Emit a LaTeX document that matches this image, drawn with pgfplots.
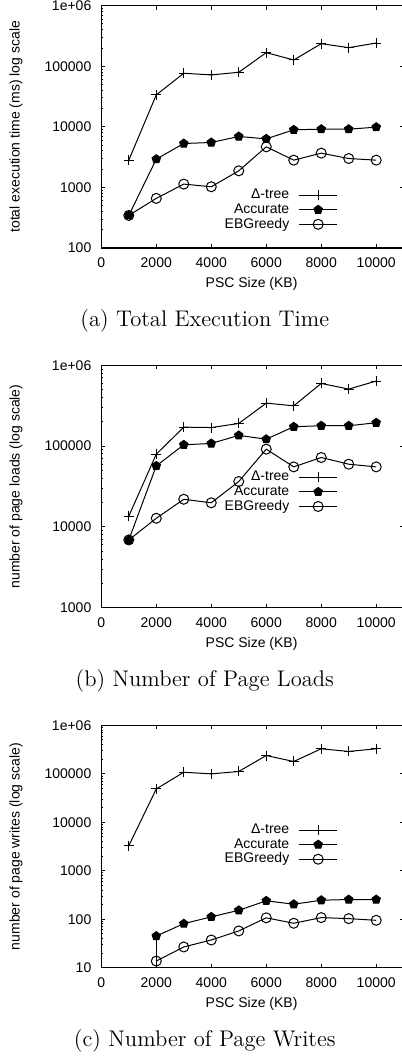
\documentclass[border=0pt]{standalone}
\usepackage{fontspec}
\usepackage{pgfplots}
\pgfplotsset{compat=1.18}
\usetikzlibrary{plotmarks}
\newfontfamily\arial{Liberation Sans}
\newcommand{\sml}{\arial\fontsize{7}{8.4}\selectfont}
\pgfplotsset{
  gp/.style={
    scale only axis, width=151.2pt, height=121.15pt,
    xmin=0, xmax=11000,
    scaled x ticks=false,
    xtick={0,2000,4000,6000,8000,10000},
    xticklabels={0,2000,4000,6000,8000,10000},
    tick align=inside,
    major tick length=1.9pt, minor tick length=1pt,
    xtick pos=both, ytick pos=both,
    tick style={line width=0.5pt, black},
    axis line style={line width=0.65pt},
    xticklabel style={font=\sml, anchor=center, inner sep=0pt, yshift=-7.5pt},
    yticklabel style={font=\sml, anchor=east, inner sep=0pt, xshift=-4.8pt},
    every axis x label/.style={at={(axis description cs:0.497,0)}, anchor=center, yshift=-18pt, font=\sml},
    every axis y label/.style={at={(axis description cs:-0.2821,0.5)}, anchor=center, rotate=90, font=\sml},
    xlabel={PSC Size (KB)},
    legend cell align=right,
    legend plot pos=right,
    legend image code/.code={\draw[mark repeat=2,mark phase=2] plot coordinates {(0pt,0pt)(9.5pt,0pt)(19pt,0pt)};},
    legend style={draw=none, fill=none, anchor=north east, font=\sml, inner sep=0pt, row sep=0pt, column sep=4.5pt,
      nodes={inner sep=0.2pt, text height=5.3pt, text depth=1.6pt}},
  },
  dt/.style={black, line width=0.5pt, mark=+, mark size=2.5pt, mark options={solid, line width=0.5pt}},
  ac/.style={black, line width=0.5pt, mark=pentagon*, mark size=2.2pt, mark options={solid, fill=black}},
  eb/.style={black, line width=0.5pt, mark=o, mark size=2.5pt, mark options={solid, line width=0.5pt}},
}
\begin{document}
\begin{tikzpicture}
\useasboundingbox (0,0) rectangle (201pt,528pt);

% (a)
\begin{semilogyaxis}[gp, at={(50.65pt,404pt)}, anchor=south west,
  ymin=100, ymax=1000000,
  ytick={100,1000,10000,100000,1000000},
  yticklabels={100,1000,10000,100000,1e+06},
  minor ytick={200,300,400,500,600,700,800,900,2000,3000,4000,5000,6000,7000,8000,9000,20000,30000,40000,50000,60000,70000,80000,90000,200000,300000,400000,500000,600000,700000,800000,900000},
  ylabel={total execution time (ms) log scale},
  legend style={at={(0.783,0.25)}}]
\addplot[dt] coordinates {(1000,2820) (2000,33700) (3000,76700) (4000,72000) (5000,79600) (6000,168000) (7000,127000) (8000,236000) (9000,203000) (10000,242000)};
\addplot[ac] coordinates {(1000,345) (2000,2930) (3000,5310) (4000,5520) (5000,6930) (6000,6340) (7000,8930) (8000,9160) (9000,9160) (10000,9880)};
\addplot[eb] coordinates {(1000,345) (2000,659) (3000,1135) (4000,1025) (5000,1880) (6000,4680) (7000,2820) (8000,3680) (9000,3000) (10000,2820)};
\legend{Δ-tree, Accurate, EBGreedy}
\end{semilogyaxis}

% (b)
\begin{semilogyaxis}[gp, at={(50.65pt,224.15pt)}, anchor=south west,
  ymin=1000, ymax=1000000,
  ytick={1000,10000,100000,1000000},
  yticklabels={1000,10000,100000,1e+06},
  minor ytick={2000,3000,4000,5000,6000,7000,8000,9000,20000,30000,40000,50000,60000,70000,80000,90000,200000,300000,400000,500000,600000,700000,800000,900000},
  ylabel={number of page loads (log scale)},
  legend style={at={(0.783,0.57)}}]
\addplot[dt] coordinates {(1000,13600) (2000,79600) (3000,172000) (4000,170000) (5000,191000) (6000,341000) (7000,316000) (8000,598000) (9000,509000) (10000,640000)};
\addplot[ac] coordinates {(1000,6900) (2000,57000) (3000,104000) (4000,108000) (5000,136000) (6000,122000) (7000,174000) (8000,179000) (9000,179000) (10000,195000)};
\addplot[eb] coordinates {(1000,6900) (2000,12800) (3000,22000) (4000,19900) (5000,36500) (6000,91800) (7000,55400) (8000,72400) (9000,59800) (10000,55400)};
\legend{Δ-tree, Accurate, EBGreedy}
\end{semilogyaxis}

% (c)
\begin{semilogyaxis}[gp, at={(50.65pt,44.15pt)}, anchor=south west,
  ymin=10, ymax=1000000,
  ytick={10,100,1000,10000,100000,1000000},
  yticklabels={10,100,1000,10000,100000,1e+06},
  minor ytick={20,30,40,50,60,70,80,90,200,300,400,500,600,700,800,900,2000,3000,4000,5000,6000,7000,8000,9000,20000,30000,40000,50000,60000,70000,80000,90000,200000,300000,400000,500000,600000,700000,800000,900000},
  ylabel={number of page writes (log scale)},
  legend style={at={(0.783,0.60)}}]
\addplot[dt] coordinates {(1000,3290) (2000,48900) (3000,108000) (4000,100000) (5000,112000) (6000,239000) (7000,180000) (8000,329000) (9000,290000) (10000,329000)};
\addplot[ac] coordinates {(2000,45) (3000,81) (4000,112) (5000,153) (6000,240) (7000,204) (8000,247) (9000,255) (10000,255)};
\addplot[eb] coordinates {(2000,13.7) (3000,26.8) (4000,37.3) (5000,57.4) (6000,107) (7000,82.6) (8000,108) (9000,103) (10000,95)};
\addplot[black, line width=0.5pt, no marks, forget plot] coordinates {(2000,1) (2000,45)};
\legend{Δ-tree, Accurate, EBGreedy}
\end{semilogyaxis}

\node[anchor=base, font=\fontsize{11.3}{13}\selectfont] at (102.4pt,364.5pt) {(a) Total Execution Time};
\node[anchor=base, font=\fontsize{11.3}{13}\selectfont] at (102.4pt,184.65pt) {(b) Number of Page Loads};
\node[anchor=base, font=\fontsize{11.3}{13}\selectfont] at (102.4pt,4.65pt) {(c) Number of Page Writes};
\end{tikzpicture}
\end{document}
